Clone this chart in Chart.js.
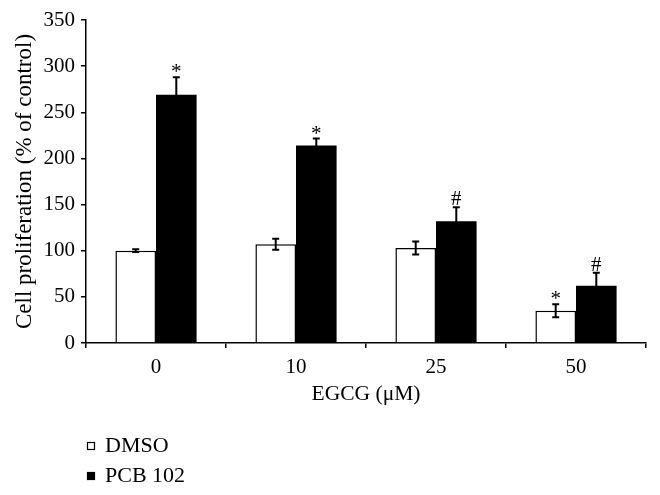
<!DOCTYPE html>
<html>
<head>
<meta charset="utf-8">
<script src="https://cdn.jsdelivr.net/npm/chart.js@4"></script>
<style>
  html, body { margin: 0; padding: 0; background: #fff; }
  #wrap { width: 660px; height: 495px; }
</style>
</head>
<body>
<div id="wrap"><canvas id="prolifChart" width="660" height="495"></canvas></div>
<script>
const categories = ["0", "10", "25", "50"];
const dmsoValues = [100, 107, 103, 35];
const dmsoErrors = [1.5, 6, 7, 7];
const pcbValues = [269, 214, 132, 62];
const pcbErrors = [19, 7.5, 15, 14];
const dmsoMarks = ["", "", "", "*"];
const pcbMarks = ["*", "*", "#", "#"];
const seriesNames = ["DMSO", "PCB 102"];

const FONT = "'Liberation Serif', 'Times New Roman', serif";
Chart.defaults.font.family = FONT;
Chart.defaults.color = "#000";

const errors = [dmsoErrors, pcbErrors];
const marks = [dmsoMarks, pcbMarks];

// error bars + significance marks
const errorBarPlugin = {
  id: "errorBars",
  afterDatasetsDraw(chart) {
    const ctx = chart.ctx;
    const y = chart.scales.y;
    ctx.save();
    ctx.strokeStyle = "#000";
    ctx.lineWidth = 2;
    chart.data.datasets.forEach((ds, i) => {
      chart.getDatasetMeta(i).data.forEach((bar, j) => {
        const v = ds.data[j];
        const e = errors[i][j];
        const top = y.getPixelForValue(v + e);
        const bot = y.getPixelForValue(v - e);
        ctx.beginPath();
        ctx.moveTo(bar.x, top);
        ctx.lineTo(bar.x, bot);
        ctx.moveTo(bar.x - 3.5, top);
        ctx.lineTo(bar.x + 3.5, top);
        ctx.moveTo(bar.x - 3.5, bot);
        ctx.lineTo(bar.x + 3.5, bot);
        ctx.stroke();
        const m = marks[i][j];
        if (m) {
          ctx.font = "21px " + FONT;
          ctx.fillStyle = "#000";
          ctx.textAlign = "center";
          ctx.textBaseline = "alphabetic";
          const tm = ctx.measureText(m);
          const mid = (tm.actualBoundingBoxAscent - tm.actualBoundingBoxDescent) / 2;
          ctx.fillText(m, bar.x, top - 9 + mid);
        }
      });
    });
    ctx.restore();
  },
};

// vertical legend below the axis title (bottom row is cut by the image edge)
const legendPlugin = {
  id: "stackedLegend",
  afterDraw(chart) {
    const ctx = chart.ctx;
    ctx.save();
    ctx.beginPath();
    ctx.rect(0, 0, chart.width, 483);
    ctx.clip();
    ctx.font = "22px " + FONT;
    ctx.textBaseline = "middle";
    ctx.textAlign = "left";
    chart.data.datasets.forEach((ds, i) => {
      const cy = 446 + i * 30;
      ctx.fillStyle = ds.backgroundColor;
      ctx.fillRect(87, cy - 4, 8, 8);
      ctx.strokeStyle = "#000";
      ctx.lineWidth = 1.2;
      ctx.strokeRect(87.5, cy - 3.5, 7, 7);
      ctx.fillStyle = "#000";
      ctx.fillText(seriesNames[i], 105, cy);
    });
    ctx.restore();
  },
};

const ctx = document.getElementById("prolifChart").getContext("2d");

new Chart(ctx, {
  type: "bar",
  data: {
    labels: categories,
    datasets: [
      {
        label: seriesNames[0],
        data: dmsoValues,
        backgroundColor: "#ffffff",
        borderColor: "#000000",
        borderWidth: 1.5,
        borderSkipped: "bottom",
      },
      {
        label: seriesNames[1],
        data: pcbValues,
        backgroundColor: "#000000",
        borderColor: "#000000",
        borderWidth: 0,
      },
    ],
  },
  options: {
    responsive: false,
    animation: false,
    categoryPercentage: 0.58,
    barPercentage: 1.0,
    layout: {
      padding: { left: 0, right: 14, top: 20, bottom: 88 },
    },
    scales: {
      x: {
        grid: {
          display: true,
          drawOnChartArea: false,
          drawTicks: true,
          tickLength: 5,
          color: "#000",
          lineWidth: 1.5,
        },
        border: { color: "#000", width: 1.5 },
        ticks: { font: { size: 21 }, padding: 7, color: "#000" },
        title: {
          display: true,
          text: "EGCG (μM)",
          font: { size: 21.5 },
          padding: { top: 0, bottom: 0 },
          color: "#000",
        },
        afterFit(scale) {
          scale.height = 64;
        },
      },
      y: {
        min: 0,
        max: 350,
        ticks: { stepSize: 50, font: { size: 21 }, padding: 6, color: "#000" },
        grid: {
          display: true,
          drawOnChartArea: false,
          drawTicks: true,
          tickLength: 5,
          color: "#000",
          lineWidth: 1.5,
        },
        border: { color: "#000", width: 1.5 },
        title: {
          display: true,
          text: "Cell proliferation (% of control)",
          font: { size: 23 },
          padding: { top: 11, bottom: 0 },
          color: "#000",
        },
        afterFit(scale) {
          scale.width = 86;
        },
      },
    },
    plugins: {
      legend: { display: false },
      tooltip: { enabled: false },
    },
  },
  plugins: [errorBarPlugin, legendPlugin],
});
</script>
</body>
</html>
